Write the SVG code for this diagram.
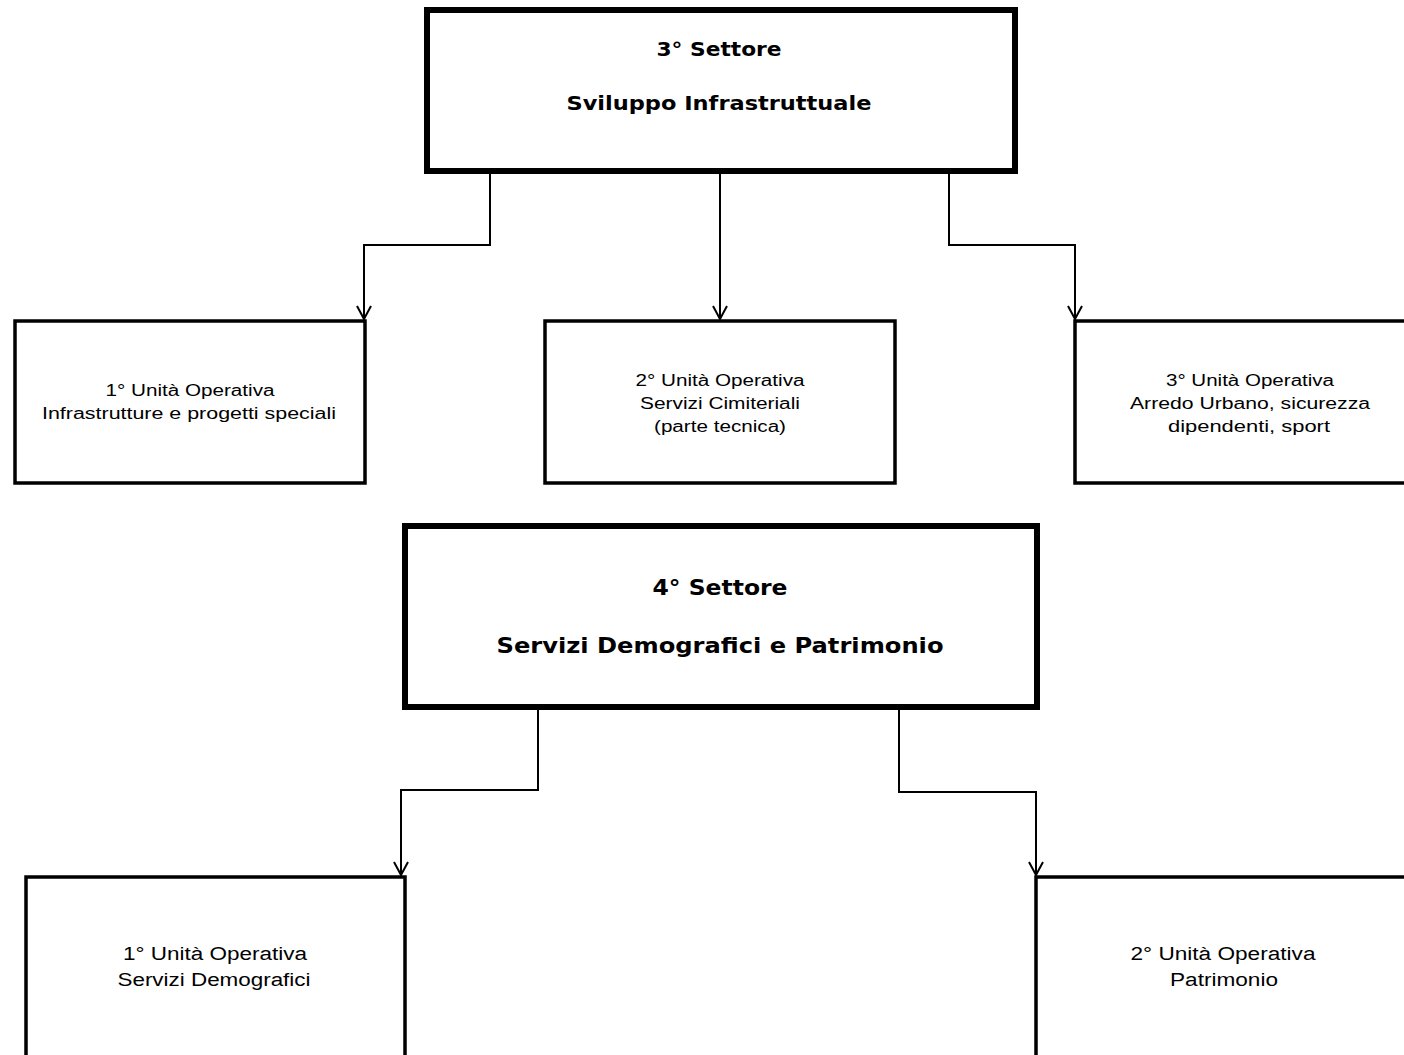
<svg xmlns="http://www.w3.org/2000/svg" width="1404" height="1055" viewBox="0 0 1404 1055">
<defs>
<style>
.sector{fill:#fff;stroke:#000;stroke-width:6}
.unit{fill:#fff;stroke:#000;stroke-width:3.5}
.t{font-family:"DejaVu Sans","Verdana",sans-serif;font-weight:bold;fill:#000;text-anchor:middle}
.s{font-family:"Liberation Sans",Arial,sans-serif;fill:#000;text-anchor:middle;font-size:16px}
.b{font-family:"Liberation Sans",Arial,sans-serif;fill:#000;text-anchor:middle;font-size:18px}
.c{fill:none;stroke:#000;stroke-width:2}
</style>
<marker id="arr" viewBox="0 0 20 20" refX="18" refY="10" markerWidth="20" markerHeight="20" markerUnits="userSpaceOnUse" orient="auto">
<path d="M5 3 L18 10 L5 17" fill="none" stroke="#000" stroke-width="2"/>
</marker>
</defs>
<rect width="1404" height="1055" fill="#fff"/>
<g id="sector3">
<rect class="sector" x="427" y="10" width="588" height="161"/>
<text class="t" x="719" y="56" font-size="20" textLength="125" lengthAdjust="spacingAndGlyphs">3° Settore</text>
<text class="t" x="719" y="110" font-size="20" textLength="305" lengthAdjust="spacingAndGlyphs">Sviluppo Infrastruttuale</text>
</g>
<g id="unit3-1">
<rect class="unit" x="15" y="321" width="350" height="162"/>
<text class="s" x="190" y="396" textLength="169" lengthAdjust="spacingAndGlyphs">1° Unità Operativa</text>
<text class="s" x="189" y="419" textLength="294" lengthAdjust="spacingAndGlyphs">Infrastrutture e progetti speciali</text>
</g>
<g id="unit3-2">
<rect class="unit" x="545" y="321" width="350" height="162"/>
<text class="s" x="720" y="386" textLength="169" lengthAdjust="spacingAndGlyphs">2° Unità Operativa</text>
<text class="s" x="720" y="409" textLength="160" lengthAdjust="spacingAndGlyphs">Servizi Cimiteriali</text>
<text class="s" x="720" y="432" textLength="132" lengthAdjust="spacingAndGlyphs">(parte tecnica)</text>
</g>
<g id="unit3-3">
<rect class="unit" x="1075" y="321" width="340" height="162"/>
<text class="s" x="1250" y="386" textLength="168" lengthAdjust="spacingAndGlyphs">3° Unità Operativa</text>
<text class="s" x="1250" y="409" textLength="240" lengthAdjust="spacingAndGlyphs">Arredo Urbano, sicurezza</text>
<text class="s" x="1249" y="432" textLength="162" lengthAdjust="spacingAndGlyphs">dipendenti, sport</text>
</g>
<g id="sector4">
<rect class="sector" x="405" y="526" width="632" height="181"/>
<text class="t" x="720" y="595" font-size="22" textLength="135" lengthAdjust="spacingAndGlyphs">4° Settore</text>
<text class="t" x="720" y="653" font-size="22" textLength="447" lengthAdjust="spacingAndGlyphs">Servizi Demografici e Patrimonio</text>
</g>
<g id="unit4-1">
<rect class="unit" x="26" y="877" width="379" height="200"/>
<text class="b" x="215" y="960" textLength="184" lengthAdjust="spacingAndGlyphs">1° Unità Operativa</text>
<text class="b" x="214" y="986" textLength="193" lengthAdjust="spacingAndGlyphs">Servizi Demografici</text>
</g>
<g id="unit4-2">
<rect class="unit" x="1036" y="877" width="400" height="200"/>
<text class="b" x="1223" y="960" textLength="185" lengthAdjust="spacingAndGlyphs">2° Unità Operativa</text>
<text class="b" x="1224" y="986" textLength="108" lengthAdjust="spacingAndGlyphs">Patrimonio</text>
</g>
<g id="connectors">
<path class="c" d="M490 174 V245 H364 V319" marker-end="url(#arr)"/>
<path class="c" d="M720 174 V319" marker-end="url(#arr)"/>
<path class="c" d="M949 174 V245 H1075 V319" marker-end="url(#arr)"/>
<path class="c" d="M538 710 V790 H401 V875" marker-end="url(#arr)"/>
<path class="c" d="M899 710 V792 H1036 V875" marker-end="url(#arr)"/>
</g>
</svg>
